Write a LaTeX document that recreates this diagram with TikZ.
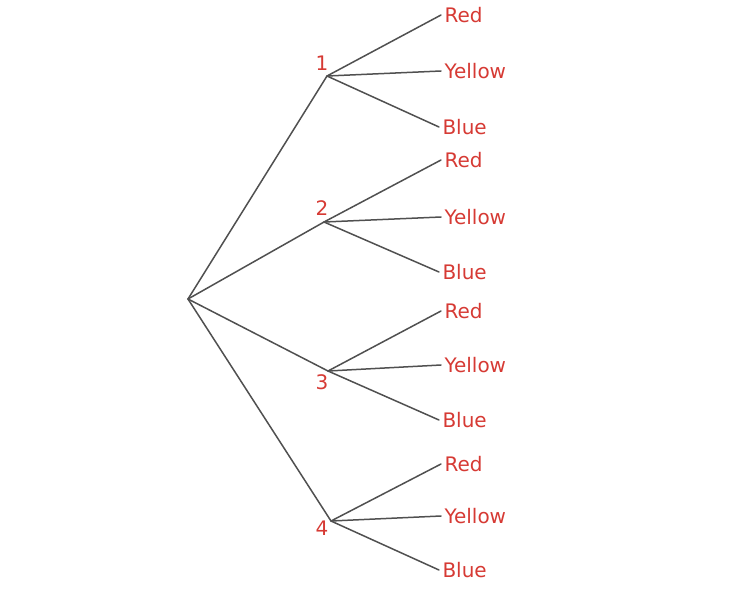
\documentclass[tikz,border=0pt]{standalone}
\usepackage{fontspec}
\setmainfont{DejaVu Sans}
\definecolor{leafred}{RGB}{214,58,52}
\definecolor{branchgray}{RGB}{80,80,80}
\tikzset{branch/.style={draw=branchgray,line width=1.5pt,line cap=round},
  leaf/.style={anchor=west,text=leafred,inner sep=3.5pt,outer sep=0pt,font=\fontsize{20}{20}\selectfont},
  num/.style={text=leafred,inner sep=0pt,font=\fontsize{20}{20}\selectfont}}

\begin{document}
\begin{tikzpicture}[x=1pt,y=-1pt]
\useasboundingbox (0,0) rectangle (750,590);
\coordinate (root) at (188,299);
\foreach \n/\x/\y/\ly/\ry/\yy/\by in {1/327/76/63/15/71/127,2/324/222/208/160/217/272,3/328/371/382/311/365/420,4/331/521/528/464/516/570}{
  \coordinate (c\n) at (\x,\y);
  \node[num] (k\n) at (322,\ly) {\n};
  \node[leaf] (red\n) at (441,\ry) {Red};
  \node[leaf] (yellow\n) at (441,\yy) {Yellow};
  \node[leaf] (blue\n) at (439,\by) {Blue};
  \draw[branch] (root) -- (c\n);
  \draw[branch] (c\n) -- (red\n.west);
  \draw[branch] (c\n) -- (yellow\n.west);
  \draw[branch] (c\n) -- (blue\n.west);
}
\end{tikzpicture}
\end{document}
